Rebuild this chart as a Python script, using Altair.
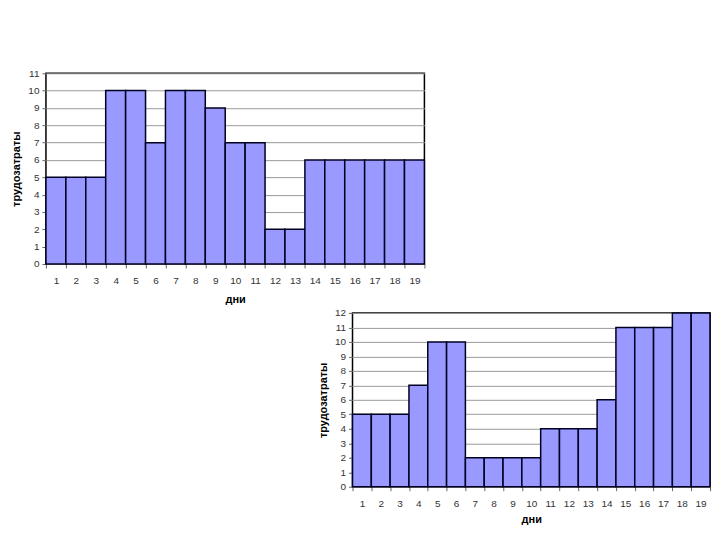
import altair as alt
import pandas as pd

days = list(range(1, 20))
top_values = [5, 5, 5, 10, 10, 7, 10, 10, 9, 7, 7, 2, 2, 6, 6, 6, 6, 6, 6]
bottom_values = [5, 5, 5, 7, 10, 10, 2, 2, 2, 2, 4, 4, 4, 6, 11, 11, 11, 12, 12]

x_title = "дни"
y_title = "трудозатраты"

FILL = "#9999FF"
EDGE = "#000022"
FONT = "Liberation Sans"


def bar_chart(values, ymax, width, height, title_pad):
    df = pd.DataFrame({"day": days, "value": values})
    return (
        alt.Chart(df)
        .mark_bar(fill=FILL, stroke=EDGE, strokeWidth=1.5)
        .encode(
            x=alt.X(
                "day:O",
                title=x_title,
                scale=alt.Scale(paddingInner=0, paddingOuter=0),
                axis=alt.Axis(
                    labelAngle=0,
                    tickBand="extent",
                    tickSize=4,
                    labelPadding=8,
                    titlePadding=title_pad,
                    domain=False,
                ),
            ),
            y=alt.Y(
                "value:Q",
                title=y_title,
                scale=alt.Scale(domain=[0, ymax], nice=False),
                axis=alt.Axis(
                    values=list(range(0, ymax + 1)),
                    tickSize=4,
                    labelPadding=3,
                    titlePadding=6,
                    domain=False,
                    gridColor="#9a9a9a",
                    gridWidth=1,
                ),
            ),
        )
        .properties(
            width=width,
            height=height,
            view=alt.ViewBackground(stroke="#000000", strokeWidth=1.5),
        )
    )


top = bar_chart(top_values, 11, 379, 191, 8)
bottom = bar_chart(bottom_values, 12, 358, 174, 5)

spacer = (
    alt.Chart(pd.DataFrame({"a": [0]}))
    .mark_point(opacity=0, size=1)
    .encode(x=alt.value(1), y=alt.value(1))
    .properties(width=271, height=10, view=alt.ViewBackground(stroke=None))
)

chart = (
    alt.vconcat(top, alt.hconcat(spacer, bottom, spacing=0), spacing=1)
    .properties(padding={"left": 2, "top": 59, "right": 0, "bottom": 0})
    .configure_view(stroke=None)
    .configure_axis(
        labelFont=FONT,
        titleFont=FONT,
        labelFontSize=10,
        labelColor="#333333",
        titleFontSize=11,
        titleFontWeight="bold",
        titleColor="#000000",
        tickColor="#666666",
    )
)

chart.save("out.html", embed_options={"renderer": "svg", "actions": False})
